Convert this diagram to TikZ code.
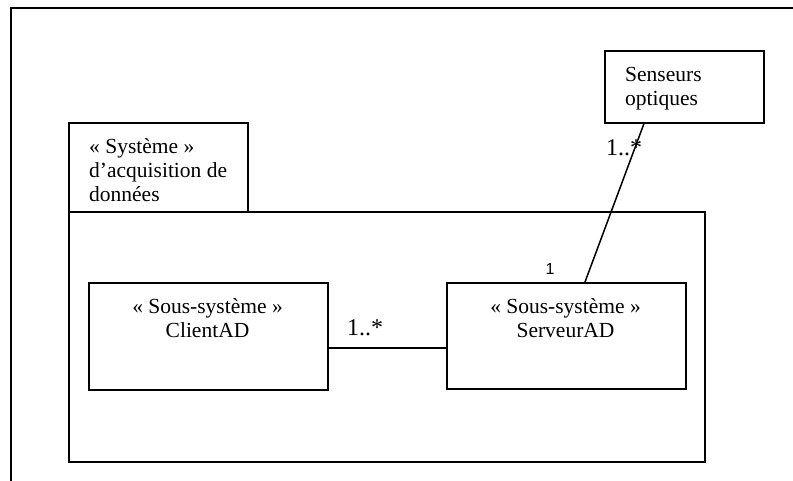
\documentclass[tikz,border=0pt]{standalone}
\usepackage{fontspec}
\setmainfont{Liberation Serif}
\newfontfamily\labelsans{Liberation Sans}
\usetikzlibrary{calc}

\tikzset{
  box/.style={draw, line width=1.5pt, rectangle, inner sep=0pt, anchor=north west},
  boxtext/.style={inner sep=0pt, font=\fontsize{21.5}{24}\selectfont},
  mult/.style={inner sep=0pt, anchor=base west, font=\fontsize{24}{28}\selectfont},
  assoc/.style={line width=1.5pt},
}

\begin{document}
\begin{tikzpicture}[x=1pt, y=-1pt]
  \useasboundingbox (0,0) rectangle (793,480);

  % surrounding frame, running past the page edge
  \draw[line width=1.5pt] (11,500) -- (11,8) -- (820,8);

  % package: tab and body
  \node[box, minimum width=179pt, minimum height=89pt] (tab) at (68,122) {};
  \node[box, minimum width=636pt, minimum height=250pt] (pkg) at (68,211) {};
  \node[boxtext, anchor=base west, align=left] (tabtext) at (89,201)
    {« Système »\\d’acquisition de\\données};

  % classes
  \node[box, minimum width=159pt, minimum height=72pt] (sens) at (604,50) {};
  \node[boxtext, anchor=base west, align=left] (senstext) at (625,105)
    {Senseurs\\optiques};

  \node[box, minimum width=239pt, minimum height=107pt] (client) at (88,282) {};
  \node[boxtext, anchor=base, align=center] (clienttext) at (207.5,337)
    {« Sous-système »\\ClientAD};

  \node[box, minimum width=239pt, minimum height=106pt] (server) at (446,282) {};
  \node[boxtext, anchor=base, align=center] (servertext) at (565.5,337)
    {« Sous-système »\\ServeurAD};

  % associations
  \coordinate (cl) at ($(client.east)+(0,11.5)$);
  \draw[assoc] (cl) -- (cl -| server.west);
  \draw[assoc] ($(sens.south west)+(40,0)$) -- ($(server.north west)+(139,0)$);

  % multiplicities
  \node[mult] (m1) at (347,335) {1..*};
  \node[mult] (m2) at (606,155) {1..*};
  \node[inner sep=0pt, anchor=base, font=\labelsans\fontsize{16}{18}\selectfont] (m3) at (550,274) {1};
\end{tikzpicture}
\end{document}
